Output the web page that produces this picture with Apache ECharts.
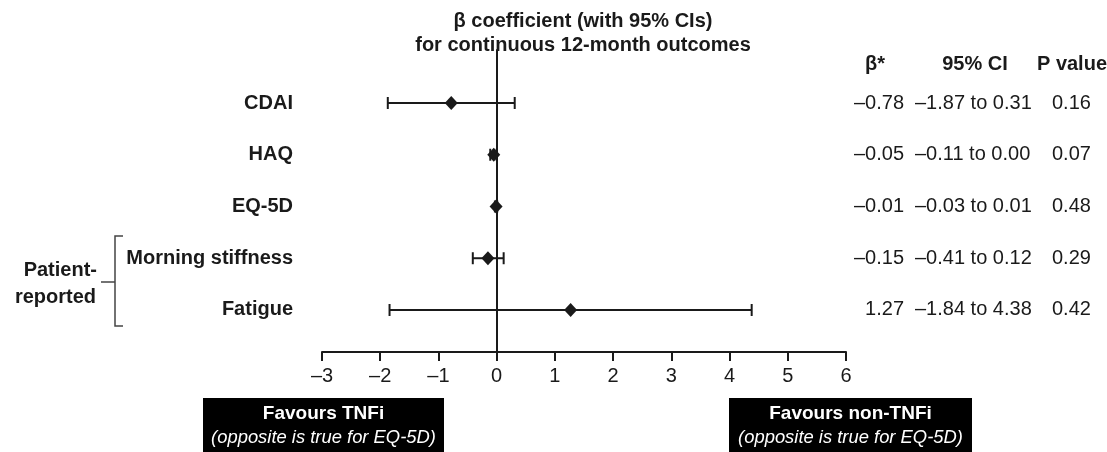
<!DOCTYPE html>
<html>
<head>
<meta charset="utf-8">
<script src="https://cdn.jsdelivr.net/npm/echarts@6/dist/echarts.min.js"></script>
<style>
  html, body { margin: 0; padding: 0; background: #fff; }
  #chart { width: 1107px; height: 452px; }
</style>
</head>
<body>
<div id="chart"></div>
<script>
// forest plot data, one entry per outcome row (top to bottom)
const outcomes = ['CDAI', 'HAQ', 'EQ-5D', 'Morning stiffness', 'Fatigue']
const betas = [-0.78, -0.05, -0.01, -0.15, 1.27]
const ciLow = [-1.87, -0.11, -0.03, -0.41, -1.84]
const ciHigh = [0.31, 0.00, 0.01, 0.12, 4.38]
const betaText = ['–0.78', '–0.05', '–0.01', '–0.15', '1.27']
const ciText = ['–1.87 to 0.31', '–0.11 to 0.00', '–0.03 to 0.01', '–0.41 to 0.12', '–1.84 to 4.38']
const pText = ['0.16', '0.07', '0.48', '0.29', '0.42']
const xTicks = [-3, -2, -1, 0, 1, 2, 3, 4, 5, 6]

const FONT = '"Liberation Sans", Arial, sans-serif'
const INK = '#1a1a1a'

const chart = echarts.init(document.getElementById('chart'))

const rows = outcomes.map((name, i) => [i + 1, ciLow[i], ciHigh[i]])

function renderBar(params, api) {
  const row = api.value(0)
  const p1 = api.coord([api.value(1), row])
  const p2 = api.coord([api.value(2), row])
  const cap = 6
  const style = { stroke: INK, lineWidth: 2 }
  return {
    type: 'group',
    children: [
      { type: 'line', shape: { x1: p1[0], y1: p1[1], x2: p2[0], y2: p2[1] }, style },
      { type: 'line', shape: { x1: p1[0], y1: p1[1] - cap, x2: p1[0], y2: p1[1] + cap }, style },
      { type: 'line', shape: { x1: p2[0], y1: p2[1] - cap, x2: p2[0], y2: p2[1] + cap }, style }
    ]
  }
}

function renderText(params, api) {
  const i = params.dataIndex
  const y = api.coord([0, api.value(0)])[1]
  const base = { fill: INK, font: '20px ' + FONT, textVerticalAlign: 'middle' }
  return {
    type: 'group',
    children: [
      { type: 'text', style: Object.assign({}, base, { x: 293, y, text: outcomes[i], textAlign: 'right', font: 'bold 20px ' + FONT }) },
      { type: 'text', style: Object.assign({}, base, { x: 904, y, text: betaText[i], textAlign: 'right' }) },
      { type: 'text', style: Object.assign({}, base, { x: 915, y, text: ciText[i], textAlign: 'left' }) },
      { type: 'text', style: Object.assign({}, base, { x: 1052, y, text: pText[i], textAlign: 'left' }) }
    ]
  }
}

const headStyle = { fill: INK, font: 'bold 20px ' + FONT, textAlign: 'center', textVerticalAlign: 'middle' }
const boxText = (x, t1) => ([
  { type: 'text', style: { x, y: 414, text: t1, fill: '#fff', font: 'bold 19px ' + FONT, textAlign: 'center', textVerticalAlign: 'middle' } },
  { type: 'text', style: { x, y: 438, text: '(opposite is true for EQ-5D)', fill: '#fff', font: 'italic 18.4px ' + FONT, textAlign: 'center', textVerticalAlign: 'middle' } }
])

chart.setOption({
  animation: false,
  grid: { left: 322, right: 261, top: 50, bottom: 100 },
  xAxis: {
    type: 'value',
    min: -3,
    max: 6,
    interval: 1,
    axisLine: { onZero: false, lineStyle: { color: INK, width: 2 } },
    axisTick: { show: true, length: 9, lineStyle: { color: INK, width: 2 } },
    axisLabel: {
      margin: 14,
      color: INK,
      fontSize: 20,
      fontFamily: FONT,
      formatter: v => xTicks.includes(v) ? String(v).replace('-', '–') : ''
    },
    splitLine: { show: false }
  },
  yAxis: {
    type: 'value',
    inverse: true,
    min: -0.024,
    max: 5.812,
    axisLine: { show: true, onZero: true, lineStyle: { color: INK, width: 2 } },
    axisTick: { show: false },
    axisLabel: { show: false },
    splitLine: { show: false }
  },
  series: [
    {
      type: 'custom',
      renderItem: renderBar,
      data: rows,
      encode: { x: [1, 2], y: 0 },
      z: 2
    },
    {
      type: 'scatter',
      symbol: 'diamond',
      symbolSize: [13, 14],
      itemStyle: { color: INK, opacity: 1 },
      data: betas.map((b, i) => [b, i + 1]),
      z: 3
    },
    {
      type: 'custom',
      renderItem: renderText,
      data: rows,
      encode: { x: 1, y: 0 },
      clip: false,
      z: 4
    }
  ],
  graphic: [
    { type: 'text', style: Object.assign({}, headStyle, { x: 583, y: 21, text: 'β coefficient (with 95% CIs)' }) },
    { type: 'text', style: Object.assign({}, headStyle, { x: 583, y: 45, text: 'for continuous 12-month outcomes' }) },
    { type: 'text', style: Object.assign({}, headStyle, { x: 875, y: 64, text: 'β*' }) },
    { type: 'text', style: Object.assign({}, headStyle, { x: 975, y: 64, text: '95% CI' }) },
    { type: 'text', style: Object.assign({}, headStyle, { x: 1072, y: 64, text: 'P value' }) },
    // patient-reported bracket
    { type: 'polyline', shape: { points: [[123, 236], [115, 236], [115, 326], [123, 326]] }, style: { stroke: '#444', lineWidth: 1.5, fill: null } },
    { type: 'line', shape: { x1: 101, y1: 282, x2: 115, y2: 282 }, style: { stroke: '#444', lineWidth: 1.5 } },
    { type: 'text', style: { x: 97, y: 270, text: 'Patient-', fill: INK, font: 'bold 20px ' + FONT, textAlign: 'right', textVerticalAlign: 'middle' } },
    { type: 'text', style: { x: 96, y: 297, text: 'reported', fill: INK, font: 'bold 20px ' + FONT, textAlign: 'right', textVerticalAlign: 'middle' } },
    // direction boxes
    { type: 'rect', shape: { x: 203, y: 398, width: 241, height: 60 }, style: { fill: '#000' } },
    { type: 'rect', shape: { x: 729, y: 398, width: 243, height: 60 }, style: { fill: '#000' } },
    ...boxText(323.5, 'Favours TNFi'),
    ...boxText(850.5, 'Favours non-TNFi')
  ]
})

window.addEventListener('resize', () => chart.resize())
</script>
</body>
</html>
